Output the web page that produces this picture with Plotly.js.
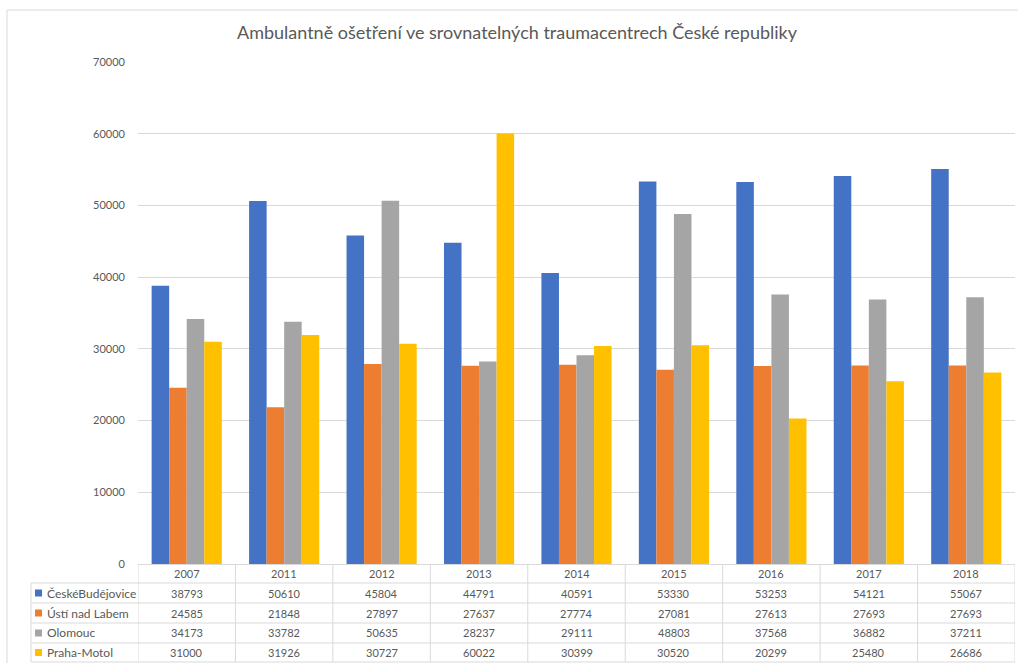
<!DOCTYPE html>
<html>
<head>
<meta charset="utf-8">
<script src="https://cdn.plot.ly/plotly-3.0.1.min.js"></script>
<style>html,body{margin:0;padding:0;background:#fff;}#chart{width:1018px;height:663px;}</style>
</head>
<body>
<div id="chart"></div>
<script>
const years = ['2007','2011','2012','2013','2014','2015','2016','2017','2018'];
const seriesNames = ['ČeskéBudějovice','Ústí nad Labem','Olomouc','Praha-Motol'];
const ceskeBudejovice = [38793,50610,45804,44791,40591,53330,53253,54121,55067];
const ustiNadLabem = [24585,21848,27897,27637,27774,27081,27613,27693,27693];
const olomouc = [34173,33782,50635,28237,29111,48803,37568,36882,37211];
const prahaMotol = [31000,31926,30727,60022,30399,30520,20299,25480,26686];
const colors = ['#4472C4','#ED7D31','#A5A5A5','#FFC000'];
const allSeries = [ceskeBudejovice, ustiNadLabem, olomouc, prahaMotol];

const W = 1018, H = 663;
const L = 138, R = 1015, T = 62, B = 564;
const px2x = p => (p - L) / (R - L);
const py2y = p => (B - p) / (B - T);
const FONT = 'Lato, "Open Sans", sans-serif';
const TXT = '#595959';
const GRID = '#d9d9d9';

const traces = allSeries.map((vals, i) => ({
  type: 'bar', x: years, y: vals, name: seriesNames[i],
  marker: {color: colors[i]}, hoverinfo: 'skip'
}));

const shapes = [];
const annotations = [];
// outer chart border
shapes.push({type:'rect', xref:'paper', yref:'paper', x0:px2x(7), x1:px2x(1040), y0:py2y(10), y1:py2y(690), line:{color:GRID,width:1}, layer:'below'});
// table row lines
const rowLines = [583, 603, 623, 643, 662];
rowLines.forEach(py => shapes.push({type:'line', xref:'paper', yref:'paper', x0:px2x(31), x1:1, y0:py2y(py), y1:py2y(py), line:{color:GRID,width:1}}));
// table vertical lines at category boundaries
for (let i = 0; i <= years.length; i++) {
  shapes.push({type:'line', xref:'x', yref:'paper', x0:i-0.5, x1:i-0.5, y0:py2y(564), y1:py2y(662), line:{color:GRID,width:1}});
}
shapes.push({type:'line', xref:'paper', yref:'paper', x0:px2x(31), x1:px2x(31), y0:py2y(583), y1:py2y(662), line:{color:GRID,width:1}});

const rowCenters = [593, 613, 633, 652.5];
// year header
years.forEach((yr, c) => annotations.push({xref:'x', yref:'paper', x:c, y:py2y(573.5), text:yr, showarrow:false, font:{family:FONT,size:11,color:TXT}, xanchor:'center', yanchor:'middle'}));
allSeries.forEach((vals, s) => {
  // legend key
  shapes.push({type:'rect', xref:'paper', yref:'paper', x0:px2x(35), x1:px2x(42), y0:py2y(rowCenters[s]-3.5), y1:py2y(rowCenters[s]+3.5), fillcolor:colors[s], line:{width:0}});
  annotations.push({xref:'paper', yref:'paper', x:px2x(45), y:py2y(rowCenters[s]), text:seriesNames[s], showarrow:false, font:{family:FONT,size:12,color:TXT}, xanchor:'left', yanchor:'middle'});
  vals.forEach((v, c) => annotations.push({xref:'x', yref:'paper', x:c, y:py2y(rowCenters[s]), text:String(v), showarrow:false, font:{family:FONT,size:11,color:TXT}, xanchor:'center', yanchor:'middle'}));
});

const layout = {
  width: W, height: H,
  margin: {l: L, r: W - R, t: T, b: H - B},
  paper_bgcolor: '#fff', plot_bgcolor: '#fff',
  title: {text: 'Ambulantně ošetření ve srovnatelných traumacentrech České republiky', font:{family:FONT,size:18,color:TXT}, x:517/W, xanchor:'center', y:1-33/H, yanchor:'middle', xref:'container', yref:'container'},
  showlegend: false,
  barmode: 'group', bargap: 0.28, bargroupgap: 0,
  xaxis: {type:'category', showticklabels:false, showgrid:false, zeroline:false, showline:false, ticks:'', range:[-0.5, years.length-0.5]},
  yaxis: {range:[0,70000], dtick:10000, tick0:0, showgrid:true, gridcolor:GRID, gridwidth:1, zeroline:true, zerolinecolor:GRID, showline:false, ticks:'', tickfont:{family:FONT,size:11,color:TXT}, ticklabelstandoff:12, tickformat:'d'},
  shapes: shapes,
  annotations: annotations,
  font: {family: FONT}
};

Plotly.newPlot('chart', traces, layout, {displayModeBar:false, staticPlot:true});
</script>
</body>
</html>
